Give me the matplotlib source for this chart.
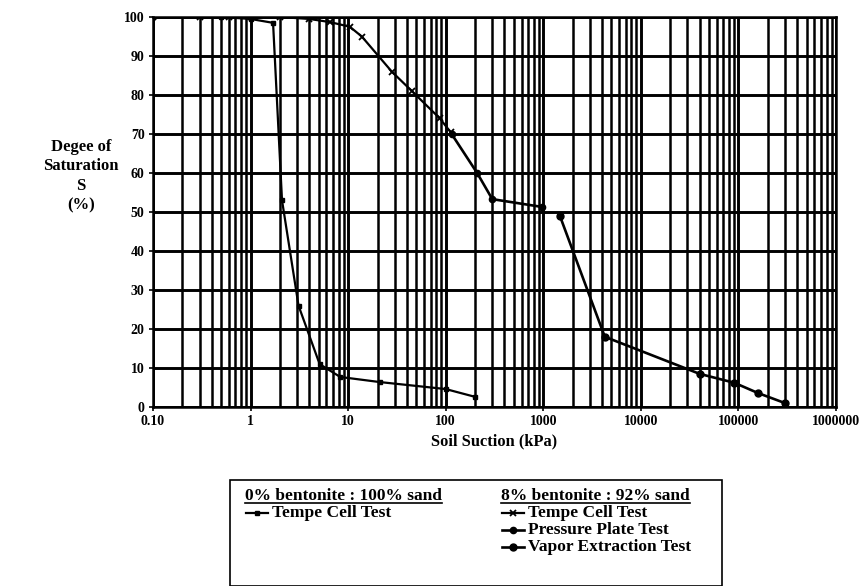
import matplotlib
matplotlib.use("Agg")
import matplotlib.pyplot as plt
from matplotlib.ticker import LogLocator, FixedLocator, NullFormatter
from matplotlib.lines import Line2D
from matplotlib.patches import Rectangle

plt.rcParams['font.family'] = ['Liberation Serif', 'DejaVu Serif']
plt.rcParams['font.weight'] = 'bold'

# ---- data ----
sand_tempe_x = [0.1, 0.5, 1.0, 1.7, 2.1, 3.1, 5.1, 8.3, 21, 100, 200]
sand_tempe_s = [100, 100, 99.5, 98.5, 53, 26, 11, 7.7, 6.4, 4.6, 2.6]

bent_tempe_x = [0.1, 0.3, 0.6, 1.0, 2.0, 4.0, 6.5, 10.4, 13.8, 28, 45, 87, 112]
bent_tempe_s = [100, 100, 100, 100, 100, 99.5, 98.7, 97.5, 95, 86, 81, 74, 70.5]

bent_pp_x = [115, 210, 300, 970]
bent_pp_s = [70, 60, 53.3, 51.3]

bent_vap_x = [1480, 4270, 40000, 91000, 158000, 300000]
bent_vap_s = [49, 18, 8.5, 6.2, 3.6, 1]

xtick_vals = [0.1, 1, 10, 100, 1000, 10000, 100000, 1000000]
xtick_labels = ["0.10", "1", "10", "100", "1000", "10000", "100000", "1000000"]
ytick_vals = list(range(0, 101, 10))

# ---- figure ----
fig = plt.figure(figsize=(8.67, 5.86), dpi=100)
ax = fig.add_axes([153/867, 1-407/586, 683/867, 390/586])

ax.set_xscale('log')
ax.set_xlim(0.1, 1e6)
ax.set_ylim(0, 100)
ax.xaxis.set_major_locator(FixedLocator(xtick_vals))
ax.set_xticklabels(xtick_labels)
ax.xaxis.set_minor_locator(LogLocator(base=10, subs=range(2, 10), numticks=20))
ax.xaxis.set_minor_formatter(NullFormatter())
ax.set_yticks(ytick_vals)

ax.grid(True, which='major', axis='both', color='black', lw=2.1)
ax.grid(True, which='minor', axis='x', color='black', lw=1.8)
ax.set_axisbelow(True)
for sp in ax.spines.values():
    sp.set_linewidth(1.8)
ax.tick_params(axis='both', which='major', labelsize=10, length=3, width=1.2, pad=3)
ax.tick_params(axis='x', which='minor', length=0)
for lbl in ax.get_xticklabels() + ax.get_yticklabels():
    lbl.set_fontweight('bold')

l1, = ax.plot(sand_tempe_x, sand_tempe_s, color='black', lw=1.6, marker='s', ms=3.5, zorder=3)
l2, = ax.plot(bent_tempe_x, bent_tempe_s, color='black', lw=1.6, marker='x', ms=5, mew=1.3, zorder=3)
l3, = ax.plot(bent_pp_x, bent_pp_s, color='black', lw=1.9, marker='o', ms=4.5, zorder=3)
l4, = ax.plot(bent_vap_x, bent_vap_s, color='black', lw=1.9, marker='o', ms=5, zorder=3)

ax.set_xlabel("Soil Suction (kPa)", fontsize=11.8, fontweight='bold', labelpad=4)
fig.text(81/867, 1-176/586, "Degee of\nSaturation\nS\n(%)", ha='center', va='center',
         fontsize=12, fontweight='bold', linespacing=1.3)

# ---- custom legend box ----
fig.patches.append(Rectangle((230/867, 0), (722-230)/867, (586-480)/586,
                             transform=fig.transFigure, fill=False, ec='black', lw=1.2))

renderer = fig.canvas.get_renderer()

def underlined(x, y, s):
    t = fig.text(x, y, s, fontsize=12.5, fontweight='bold', ha='left', va='baseline')
    bb = t.get_window_extent(renderer=renderer)
    bbf = bb.transformed(fig.transFigure.inverted())
    fig.add_artist(Line2D([bbf.x0, bbf.x1], [y - 2.5/586, y - 2.5/586],
                          transform=fig.transFigure, color='black', lw=1.2))

underlined(245/867, 1-500/586, "0% bentonite : 100% sand")
underlined(501/867, 1-500/586, "8% bentonite : 92% sand")

def entry(x, y, line, label):
    fig.add_artist(Line2D([x, x + 22/867], [y, y], transform=fig.transFigure, color='black',
                          lw=line.get_linewidth(), marker=None))
    fig.add_artist(Line2D([x + 11/867], [y], transform=fig.transFigure, color='black',
                          marker=line.get_marker(), ms=line.get_markersize(),
                          mew=line.get_markeredgewidth(), ls='none'))
    fig.text(x + 26/867, y, label, fontsize=12.5, fontweight='bold', ha='left', va='center')

entry(246/867, 1-513/586, l1, "Tempe Cell Test")
entry(502/867, 1-513/586, l2, "Tempe Cell Test")
entry(502/867, 1-530/586, l3, "Pressure Plate Test")
entry(502/867, 1-547/586, l4, "Vapor Extraction Test")

fig.savefig("out.png", dpi=100)
